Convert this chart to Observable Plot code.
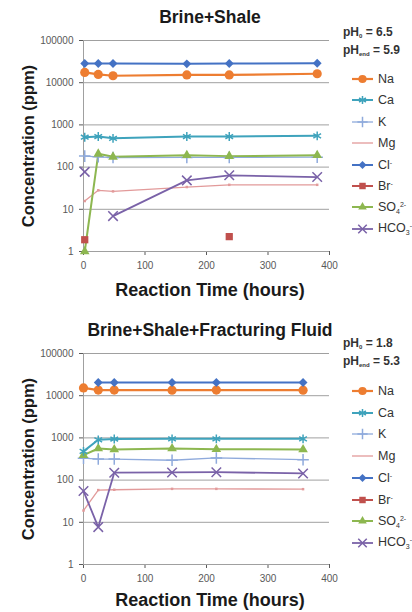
<!DOCTYPE html>
<html>
<head>
<meta charset="utf-8">
<script src="https://cdn.jsdelivr.net/npm/d3@7"></script>
<script src="https://cdn.jsdelivr.net/npm/@observablehq/plot@0.6"></script>
<style>
  html, body { margin: 0; padding: 0; background: #fff; }
  #root { position: relative; width: 412px; height: 612px; background: #fff; font-family: "Liberation Sans", Arial, sans-serif; overflow: hidden; }
  .panel { position: absolute; left: 0; width: 412px; height: 306px; }
  .panel svg.plot { position: absolute; left: 0; top: 0; }
  .title { position: absolute; left: 40px; width: 340px; text-align: center; font-weight: bold; font-size: 17.5px; color: #1a1a1a; line-height: 20px; }
  .ylab { position: absolute; font-weight: bold; font-size: 16.5px; color: #1a1a1a; white-space: nowrap; transform: translate(-50%, -50%) rotate(-90deg); line-height: 18px; }
  .xlab { position: absolute; left: 40px; width: 340px; text-align: center; font-weight: bold; font-size: 18px; color: #1a1a1a; line-height: 20px; }
  .ph { position: absolute; left: 343px; font-weight: bold; font-size: 12px; color: #333; line-height: 14px; white-space: nowrap; }
  .ph sub { font-size: 6px; vertical-align: -2px; }
  .leg { position: absolute; left: 350px; height: 16px; display: flex; align-items: center; font-size: 12.5px; color: #333; white-space: nowrap; }
  .leg sup, .leg sub { font-size: 7px; }
  .leg sub { vertical-align: -3px; }
  .leg sup { vertical-align: 4px; }
</style>
</head>
<body>
<div id="root"></div>
<script>
// ---------------- DATA ----------------
const ions = ["Na", "Ca", "K", "Mg", "Cl", "Br", "SO4", "HCO3"];
const ionLabels = ["Na", "Ca", "K", "Mg", "Cl<sup>-</sup>", "Br<sup>-</sup>", "SO<sub>4</sub><sup>2-</sup>", "HCO<sub>3</sub><sup>-</sup>"];

const panelTitles = ["Brine+Shale", "Brine+Shale+Fracturing Fluid"];
const ph0 = ["6.5", "1.8"];
const phEnd = ["5.9", "5.3"];

// Brine+Shale (reaction time, hours)
const hoursA = [2, 24, 48, 168, 237, 380];
const naA   = [17500, 15700, 14600, 15300, 15300, 16300];
const caA   = [510, 530, 480, 530, 530, 550];
const kA    = [182, 175, 168, 170, 170, 172];
const mgA   = [15.7, 28.2, 26.6, 33.7, 38, 38];
const clA   = [28500, 28500, 28500, 28000, 28500, 29000];
const brA   = [1.9, null, null, null, 2.25, null];
const so4A  = [1, 206, 175, 190, 182, 190];
const hco3A = [77, null, 6.9, 48.5, 64, 58];

// Brine+Shale+Fracturing Fluid
const hoursB = [0, 24, 50, 144, 216, 357];
const naB   = [15300, 13600, 13600, 13500, 13600, 13500];
const caB   = [480, 900, 940, 950, 950, 950];
const kB    = [330, 315, 315, 295, 335, 305];
const mgB   = [19, 58, 59, 62, 62, 61];
const clB   = [null, 20500, 20500, 20500, 20500, 20500];
const brB   = [null, null, null, null, null, null];
const so4B  = [390, 560, 530, 560, 540, 530];
const hco3B = [55, 7.7, 150, 152, 154, 144];

const yTicks = [1, 10, 100, 1000, 10000, 100000];
const xTicks = [0, 100, 200, 300, 400];

// ---------------- STYLE ----------------
const ionStyle = {
  Na:   {color: "#ED7D31", symbol: "circle",    filled: true,  r: 4.6, sw: 2.2},
  Ca:   {color: "#3FA3BC", symbol: "asterisk",  filled: false, r: 4.2, sw: 2},
  K:    {color: "#8FAADC", symbol: "plus",      filled: false, r: 3.8, sw: 1.3},
  Mg:   {color: "#E29A9A", symbol: "square",    filled: true,  r: 1.4, sw: 1.3},
  Cl:   {color: "#4472C4", symbol: "diamond2",  filled: true,  r: 4.0, sw: 2},
  Br:   {color: "#C0504D", symbol: "square2",   filled: true,  r: 4.6, sw: 2},
  SO4:  {color: "#8DB750", symbol: "triangle2", filled: true,  r: 4.6, sw: 2},
  HCO3: {color: "#7A62A8", symbol: "times",     filled: false, r: 4.4, sw: 1.8}
};

const panels = [
  {hours: hoursA, series: [naA, caA, kA, mgA, clA, brA, so4A, hco3A],
   top: 0, titleY: 17, mTop: 40, mBottom: 55, xLabY: 290, phY: 32, legY: 79, legStep: 21.4},
  {hours: hoursB, series: [naB, caB, kB, mgB, clB, brB, so4B, hco3B],
   top: 306, titleY: 24, mTop: 47, mBottom: 48, xLabY: 294, phY: 37, legY: 85, legStep: 21.7}
];

const root = document.getElementById("root");
const symbolMap = {
  circle: d3.symbolCircle, asterisk: d3.symbolAsterisk, plus: d3.symbolPlus, square: d3.symbolSquare,
  diamond2: d3.symbolDiamond2, square2: d3.symbolSquare2, triangle2: d3.symbolTriangle2, times: d3.symbolTimes
};

panels.forEach((p, pi) => {
  const div = document.createElement("div");
  div.className = "panel";
  div.style.top = p.top + "px";
  root.appendChild(div);

  const rows = [];
  ions.forEach((ion, i) => {
    p.hours.forEach((t, j) => {
      const v = p.series[i][j];
      rows.push({ion, t, v: v == null ? undefined : v});
    });
  });

  const marks = [
    Plot.ruleY(yTicks, {stroke: "#a0a0a0", strokeWidth: 1}),
    Plot.ruleX([0], {stroke: "#a0a0a0", strokeWidth: 1})
  ];
  const order = ["Mg", "K", "HCO3", "SO4", "Ca", "Br", "Na", "Cl"];
  order.forEach(ion => {
    const s = ionStyle[ion];
    const d = rows.filter(r => r.ion === ion);
    marks.push(Plot.line(d, {x: "t", y: "v", stroke: s.color, strokeWidth: s.sw}));
  });
  order.forEach(ion => {
    const s = ionStyle[ion];
    const d = rows.filter(r => r.ion === ion && r.v !== undefined);
    if (s.filled) {
      marks.push(Plot.dot(d, {x: "t", y: "v", symbol: () => s.symbol, r: s.r, fill: s.color, stroke: "none"}));
    } else {
      marks.push(Plot.dot(d, {x: "t", y: "v", symbol: () => s.symbol, r: s.r, stroke: s.color, strokeWidth: 1.5, fill: "none"}));
    }
  });

  const chart = Plot.plot({
    width: 412,
    height: 306,
    marginLeft: 83,
    marginRight: 83,
    marginTop: p.mTop,
    marginBottom: p.mBottom,
    style: {fontFamily: "'Liberation Sans', Arial, sans-serif", fontSize: "10px", color: "#595959", background: "transparent", overflow: "visible"},
    x: {domain: [0, 400], ticks: xTicks, tickFormat: d => String(d), label: null, tickSize: 4, tickPadding: 6, line: true},
    y: {type: "log", domain: [1, 100000], ticks: yTicks, tickFormat: d => String(d), label: null, tickSize: 4, tickPadding: 6},
    symbol: {type: "identity"},
    marks
  });
  chart.classList.add("plot");
  div.appendChild(chart);

  const title = document.createElement("div");
  title.className = "title";
  title.textContent = panelTitles[pi];
  title.style.top = (p.titleY - 10) + "px";
  div.appendChild(title);

  const yl = document.createElement("div");
  yl.className = "ylab";
  yl.textContent = "Concentration (ppm)";
  yl.style.left = "28px";
  yl.style.top = ((p.mTop + (306 - p.mBottom)) / 2) + "px";
  div.appendChild(yl);

  const xl = document.createElement("div");
  xl.className = "xlab";
  xl.textContent = "Reaction Time (hours)";
  xl.style.top = (p.xLabY - 10) + "px";
  div.appendChild(xl);

  const ph = document.createElement("div");
  ph.className = "ph";
  ph.style.top = (p.phY - 7) + "px";
  ph.innerHTML = `pH<sub>0</sub> = ${ph0[pi]}<br>pH<sub>end</sub> = ${phEnd[pi]}`;
  div.appendChild(ph);

  ions.forEach((ion, i) => {
    const s = ionStyle[ion];
    const item = document.createElement("div");
    item.className = "leg";
    item.style.top = (p.legY + i * p.legStep - 8) + "px";
    const svg = d3.create("svg").attr("width", 26).attr("height", 16).style("margin-right", "2px");
    svg.append("line").attr("x1", 2).attr("x2", 23).attr("y1", 8).attr("y2", 8)
      .attr("stroke", s.color).attr("stroke-width", s.sw);
    if (ion !== "Mg") {
      const path = d3.symbol(symbolMap[s.symbol], Math.PI * s.r * s.r * 0.8)();
      const g = svg.append("path").attr("d", path).attr("transform", "translate(12.5,8)");
      if (s.filled) g.attr("fill", s.color);
      else g.attr("fill", "none").attr("stroke", s.color).attr("stroke-width", 1.5);
    }
    item.appendChild(svg.node());
    const lab = document.createElement("span");
    lab.innerHTML = ionLabels[i];
    item.appendChild(lab);
    div.appendChild(item);
  });
});
</script>
</body>
</html>
